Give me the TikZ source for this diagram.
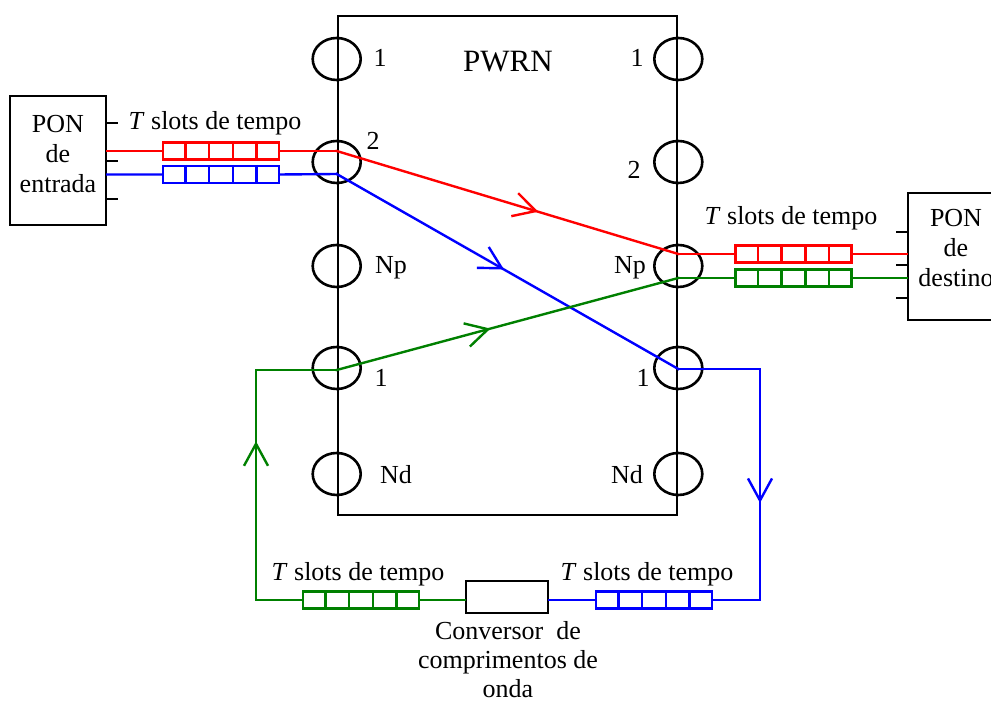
\documentclass[tikz,border=0pt]{standalone}
\usepackage{fontspec}
\setmainfont{Liberation Serif}
\usetikzlibrary{arrows.meta,positioning,calc,shapes.geometric,decorations.markings}

\definecolor{fgreen}{RGB}{0,128,0}

% split a slot buffer into five time slots
\newcommand{\cells}[2]{%
  \foreach \k in {1,...,4}
    \draw[#2, line width=1.2pt] ($(#1.north west)!\k/5!(#1.north east)$) -- ($(#1.south west)!\k/5!(#1.south east)$);}

\begin{document}
\begin{tikzpicture}[x=0.5pt, y=-0.5pt,
  txt/.style={font=\fontsize{13}{15}\selectfont, inner sep=0pt},
  box/.style={draw, line width=1.3pt, inner sep=0pt},
  port/.style={draw, ellipse, line width=1.3pt, minimum width=24pt, minimum height=21pt, inner sep=0pt},
  buf/.style={draw, line width=1.2pt, minimum width=58pt, minimum height=8.5pt, inner sep=0pt},
  fib/.style={line width=1.2pt, line cap=rect},
  mid/.style={postaction={decorate}, decoration={markings,
    mark=at position #1 with {\arrow{Straight Barb[length=11pt, width=12pt, line width=1.2pt]}}}}]
  \useasboundingbox (0,0) rectangle (991,704);

  % node PWRN and its ports
  \node[box, minimum width=169.5pt, minimum height=249.5pt] (pwrn) at (507.5,265.5) {};
  \node[txt, font=\fontsize{15.5}{18}\selectfont] (title) at (508,62) {PWRN};
  \foreach \nm/\yy in {P1/59, P2/162, Np/266, Q1/368, Nd/474} {
    \node[port] (in\nm) at (pwrn.west |- 0,\yy) {};
    \node[port] (out\nm) at (pwrn.east |- 0,\yy) {};
  }
  \foreach \nm/\lab/\xx/\yy in {inP1/1/380/58, inP2/2/373/141, inNp/Np/391/268, inQ1/1/381/378, inNd/Nd/396/475,
      outP1/1/637/58, outP2/2/634/170, outNp/Np/630/268, outQ1/1/643/378, outNd/Nd/627/475}
    \node[txt] (t\nm) at (\xx,\yy) {\lab};

  % PONs
  \node[box, minimum width=48pt, minimum height=64.5pt] (ponIn) at (58,160.5) {};
  \node[txt, align=center] (ponInTxt) at (58,154) {PON\\de\\entrada};
  \foreach \yy in {123,161,199}
    \draw[line width=1.3pt] (ponIn.east |- 0,\yy) -- ++(11,0);
  \node[box, minimum width=48pt, minimum height=63.5pt] (ponOut) at (956,256.5) {};
  \node[txt, align=center] (ponOutTxt) at (956,248) {PON\\de\\destino};
  \foreach \yy in {232,265,298}
    \draw[line width=1.3pt] (ponOut.west |- 0,\yy) -- ++(-11,0);

  % slot buffers
  \node[buf, draw=red] (bufR) at (221,151) {};
  \node[buf, draw=blue] (bufB) at (221,174.5) {};
  \node[buf, draw=red] (bufRo) at (793.5,254) {};
  \node[buf, draw=fgreen] (bufGo) at (793.5,278) {};
  \node[buf, draw=fgreen] (bufGb) at (361,600) {};
  \node[buf, draw=blue] (bufBb) at (654,600) {};
  \cells{bufR}{red}
  \cells{bufB}{blue}
  \cells{bufRo}{red}
  \cells{bufGo}{fgreen}
  \cells{bufGb}{fgreen}
  \cells{bufBb}{blue}
  \node[txt] (sIn) at (215,123) {\textit{T} slots de tempo};
  \node[txt] (sOut) at (791,218) {\textit{T} slots de tempo};
  \node[txt] (sGb) at (358,574) {\textit{T} slots de tempo};
  \node[txt] (sBb) at (647,574) {\textit{T} slots de tempo};

  % wavelength converter
  \node[box, minimum width=41pt, minimum height=16pt] (conv) at (507,597) {};
  \node[txt, align=center, font=\fontsize{13}{14.5}\selectfont] (convTxt) at (508,660) {Conversor\ \ de\\comprimentos de\\onda};

  % entry and exit points of the fibres
  \coordinate (rA) at ($(inP2)+(0,-11)$);
  \coordinate (bA) at ($(inP2)+(0,12)$);
  \coordinate (rB) at ($(outNp)+(0,-12)$);
  \coordinate (gB) at ($(outNp)+(0,12)$);
  \coordinate (gA) at ($(inQ1)+(0,2)$);
  \coordinate (bB) at ($(outQ1)+(0,1)$);
  \coordinate (bTurn) at (760,369);
  \coordinate (bDown) at (760,600);
  \coordinate (gUp) at (256,600);
  \coordinate (gTurn) at (256,370);

  % red
  \draw[fib, red] (ponIn.east |- bufR) -- (bufR.west) (bufR.east) -- (rA);
  \draw[fib, red, mid=0.59] (rA) -- (rB);
  \draw[fib, red] (rB) -- (bufRo.west) (bufRo.east) -- (ponOut.west |- bufRo);
  % blue
  \draw[fib, blue] (ponIn.east |- bufB) -- (bufB.west) (bufB.east) -- (bA);
  \draw[fib, blue, mid=0.49] (bA) -- (bB);
  \draw[fib, blue] (bB) -- (bTurn);
  \draw[fib, blue, mid=0.58] (bTurn) -- (bDown);
  \draw[fib, blue] (bDown) -- (bufBb.east) (bufBb.west) -- (conv.east |- bufBb);
  % green
  \draw[fib, fgreen] (conv.west |- bufGb) -- (bufGb.east) (bufGb.west) -- (gUp);
  \draw[fib, fgreen, mid=0.69] (gUp) -- (gTurn);
  \draw[fib, fgreen] (gTurn) -- (gA);
  \draw[fib, fgreen, mid=0.45] (gA) -- (gB);
  \draw[fib, fgreen] (gB) -- (bufGo.west) (bufGo.east) -- (ponOut.west |- bufGo);
\end{tikzpicture}
\end{document}
